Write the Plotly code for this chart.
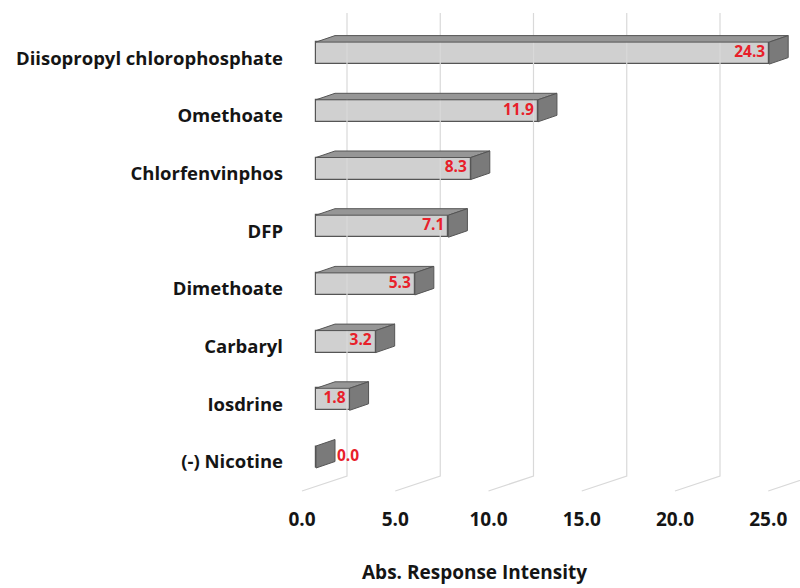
import plotly.graph_objects as go

# ---- data -------------------------------------------------------------
compounds = [
    "Diisopropyl chlorophosphate",
    "Omethoate",
    "Chlorfenvinphos",
    "DFP",
    "Dimethoate",
    "Carbaryl",
    "Iosdrine",
    "(-) Nicotine",
]
intensity = [24.3, 11.9, 8.3, 7.1, 5.3, 3.2, 1.8, 0.0]
x_ticks = [0, 5, 10, 15, 20, 25]
x_tick_labels = [f"{t:.1f}" for t in x_ticks]
x_title = "Abs. Response Intensity"

# ---- geometry of the pseudo-3D scene (axis units) ----------------------
W, H = 800, 588
PX_X = 18.65            # pixels per intensity unit
PX_Y = 57.7             # pixels per category step
M_L, M_R, M_T, M_B = 290, 0, 13, 87
ZERO_PX = 302           # pixel column of value 0 on the floor's front edge
LAST_PX = 462           # pixel row of the lowest category

x_range = [(M_L - ZERO_PX) / PX_X, (W - M_R - ZERO_PX) / PX_X]
y_range = [(LAST_PX - (H - M_B)) / PX_Y, (LAST_PX - M_T) / PX_Y]

bar_shift = 14 / PX_X           # bars sit a little behind the floor's front edge
depth_dx = 19 / PX_X            # bar depth, horizontal component
depth_dy = 6.5 / PX_Y           # bar depth, vertical component
bar_h = 22 / PX_Y               # front-face height
bar_lift = 5 / PX_Y             # front face sits slightly above the label line
wall_dx = 45 / PX_X             # floor depth (front edge -> back wall)
floor_front = (LAST_PX - 491) / PX_Y
floor_back = (LAST_PX - 476) / PX_Y

n = len(compounds)
ypos = [n - 1 - i for i in range(n)]   # first compound at the top

FRONT = "#d0d0d0"
TOP = "#969696"
SIDE = "#7a7a7a"
EDGE = "#555555"
GRID = "#d9d9d9"
RED = "#e8202a"
INK = "#151515"
FONT = "Open Sans"

fig = go.Figure()

# back-wall gridlines with their floor segments
gx, gy = [], []
for t in x_ticks:
    gx += [t, t + wall_dx, t + wall_dx, None]
    gy += [floor_front, floor_back, y_range[1], None]
fig.add_trace(go.Scatter(x=gx, y=gy, mode="lines",
                         line=dict(color=GRID, width=1.2),
                         hoverinfo="skip", showlegend=False))

# front faces of the bars
fig.add_trace(go.Bar(
    x=intensity, y=[p + bar_lift for p in ypos], base=bar_shift,
    orientation="h", width=bar_h,
    marker=dict(color=FRONT, line=dict(color=EDGE, width=1.2)),
    hoverinfo="skip", showlegend=False))

# top and side faces
for v, p in zip(intensity, ypos):
    x0 = bar_shift
    x1 = bar_shift + v
    yb = p + bar_lift - bar_h / 2
    yt = p + bar_lift + bar_h / 2
    if v > 0:
        fig.add_trace(go.Scatter(
            x=[x0, x1, x1 + depth_dx, x0 + depth_dx, x0],
            y=[yt, yt, yt + depth_dy, yt + depth_dy, yt],
            mode="lines", fill="toself", fillcolor=TOP,
            line=dict(color=EDGE, width=1), hoverinfo="skip", showlegend=False))
    fig.add_trace(go.Scatter(
        x=[x1, x1 + depth_dx, x1 + depth_dx, x1, x1],
        y=[yb, yb + depth_dy, yt + depth_dy, yt, yb],
        mode="lines", fill="toself", fillcolor=SIDE,
        line=dict(color=EDGE, width=1), hoverinfo="skip", showlegend=False))

# value labels
pad = 4 / PX_X
inside = [(v, p) for v, p in zip(intensity, ypos) if v > 0]
outside = [(v, p) for v, p in zip(intensity, ypos) if v <= 0]
fig.add_trace(go.Scatter(
    x=[bar_shift + v - pad for v, _ in inside],
    y=[p + bar_lift for _, p in inside],
    text=[f"{v:.1f}" for v, _ in inside],
    mode="text", textposition="middle left",
    textfont=dict(family=FONT, size=15.5, color=RED, weight="bold"),
    hoverinfo="skip", showlegend=False))
fig.add_trace(go.Scatter(
    x=[bar_shift + v + depth_dx + 2 / PX_X for v, _ in outside],
    y=[p + bar_lift for _, p in outside],
    text=[f"{v:.1f}" for v, _ in outside],
    mode="text", textposition="middle right",
    textfont=dict(family=FONT, size=15.5, color=RED, weight="bold"),
    hoverinfo="skip", showlegend=False))

# axis title
fig.add_annotation(
    text=x_title, xref="paper", yref="paper",
    x=(474 - M_L) / (W - M_L - M_R), y=-(572 - (H - M_B)) / (H - M_T - M_B),
    xanchor="center", yanchor="middle", showarrow=False,
    font=dict(family=FONT, size=19, color=INK, weight="bold"))

fig.update_layout(
    width=W, height=H, autosize=False,
    margin=dict(l=M_L, r=M_R, t=M_T, b=M_B),
    paper_bgcolor="white", plot_bgcolor="white",
    bargap=0,
    xaxis=dict(range=x_range, tickvals=x_ticks, ticktext=x_tick_labels,
               showgrid=False, zeroline=False, showline=False, ticks="",
               ticklabelstandoff=5,
               tickfont=dict(family=FONT, size=19, color=INK, weight="bold")),
    yaxis=dict(range=y_range, tickvals=ypos, ticktext=compounds,
               showgrid=False, zeroline=False, showline=False, ticks="",
               ticklabelstandoff=6,
               tickfont=dict(family=FONT, size=18.5, color=INK, weight="bold")),
)

fig.write_html("out.html")
